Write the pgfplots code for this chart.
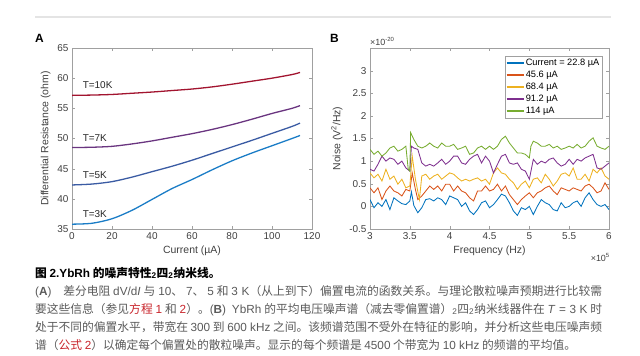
\documentclass[border=0pt]{standalone}
\usepackage{pgfplots}
\pgfplotsset{compat=1.18}
\usepackage{fontspec}
\setmainfont{Liberation Sans}
\newfontfamily\cjk[AutoFakeSlant=0.2]{Noto Sans CJK SC}
\newfontfamily\lat{Liberation Sans}
\newcommand\lt[1]{{\lat #1}}
\definecolor{capgray}{HTML}{5A5A5A}
\definecolor{capred}{HTML}{C8242B}
\definecolor{mblue}{HTML}{0072BD}
\definecolor{morange}{HTML}{D95319}
\definecolor{myellow}{HTML}{EDB120}
\definecolor{mpurple}{HTML}{7E2F8E}
\definecolor{mgreen}{HTML}{77AC30}
\definecolor{cTen}{HTML}{A2142F}
\definecolor{cSeven}{HTML}{6A3580}
\definecolor{cFive}{HTML}{3A5BA3}
\definecolor{cThree}{HTML}{1A7CC6}
\definecolor{axgray}{HTML}{A0A0A0}
\definecolor{txgray}{HTML}{404040}

\pgfplotsset{
  mystyle/.style={
    scale only axis,
    width=240bp, height=181bp,
    axis line style={axgray},
    tick style={axgray},
    tick align=inside,
    major tick length=3bp,
    tick label style={font=\fontsize{10}{11}\selectfont, text=txgray},
    label style={font=\fontsize{10.5}{12}\selectfont, text=txgray},
    /pgf/number format/assume math mode=true,
    scaled ticks=false,
  }
}

\begin{document}
\begin{tikzpicture}
\useasboundingbox (0,0) rectangle (640bp,-356bp);
\draw[color={rgb,255:red,228;green,228;blue,228}, line width=1.2bp] (35bp,-17bp) -- (611bp,-17bp);
\node[anchor=base west, inner sep=0, font=\fontsize{12}{14}\selectfont\bfseries] at (35bp,-42bp) {A};
\node[anchor=base west, inner sep=0, font=\fontsize{12}{14}\selectfont\bfseries] at (330bp,-42bp) {B};

% Panel A
\begin{axis}[mystyle,
  at={(72bp,-229bp)}, anchor=south west,
  xmin=0, xmax=120, ymin=35, ymax=65,
  xtick={0,20,...,120}, ytick={35,40,...,65},
  xlabel={Current (µA)}, ylabel={Differential Resistance (ohm)},
  every axis plot/.append style={line width=1.3pt, smooth},
]
\addplot[cTen] coordinates {(0,57.15)(10,57.2)(20,57.3)(30,57.5)(40,57.7)(50,57.95)(60,58.2)(70,58.55)(80,59.0)(90,59.5)(100,60.0)(110,60.6)(114,60.95)};
\addplot[cSeven] coordinates {(0,48.5)(10,48.55)(20,48.7)(30,49.1)(40,49.6)(50,50.2)(60,50.8)(70,51.5)(80,52.3)(90,53.2)(100,54.15)(110,55.0)(114,55.45)};
\addplot[cFive] coordinates {(0,42.3)(10,42.45)(20,42.85)(30,43.6)(40,44.5)(50,45.4)(60,46.4)(70,47.5)(80,48.6)(90,49.7)(100,50.85)(110,52.0)(114,52.55)};
\addplot[cThree] coordinates {(0,35.8)(10,35.95)(20,36.7)(30,38.1)(40,39.9)(50,41.7)(60,43.2)(70,44.8)(80,46.3)(90,47.6)(100,48.8)(110,50.0)(114,50.5)};
\node[anchor=base west, inner sep=0, font=\fontsize{10}{12}\selectfont, text=black!85] at (axis cs:5.3,58.25) {T=10K};
\node[anchor=base west, inner sep=0, font=\fontsize{10}{12}\selectfont, text=black!85] at (axis cs:5.3,49.55) {T=7K};
\node[anchor=base west, inner sep=0, font=\fontsize{10}{12}\selectfont, text=black!85] at (axis cs:5.3,43.3) {T=5K};
\node[anchor=base west, inner sep=0, font=\fontsize{10}{12}\selectfont, text=black!85] at (axis cs:5.3,36.85) {T=3K};
\end{axis}

% Panel B
\begin{axis}[mystyle,
  at={(370bp,-229bp)}, anchor=south west, width=239bp,
  xmin=3, xmax=6, ymin=-0.5, ymax=3.5,
  xtick={3,3.5,...,6}, ytick={-0.5,0,0.5,1,1.5,2,2.5,3},
  yticklabels={-0.5,0,0.5,1,1.5,2,2.5,3},
  xticklabels={3,3.5,4,4.5,5,5.5,6},
  xlabel={Frequency (Hz)}, ylabel={Noise (V\textsuperscript{2}/Hz)},
  legend cell align=left,
  legend style={at={(0.971,0.956)}, anchor=north east, draw=axgray,
    font=\fontsize{9.3}{10}\selectfont, inner xsep=1bp, inner ysep=1.5bp,
    row sep=1bp, nodes={inner xsep=1.5bp, inner ysep=1.5bp}},
  legend image post style={line width=1.4pt},
]
\addplot[color=mblue, line width=0.85pt] coordinates {(3.00,0.15)(3.05,-0.03)(3.10,0.08)(3.15,0.0)(3.20,0.15)(3.25,-0.07)(3.30,0.19)(3.35,0.12)(3.40,0.06)(3.45,0.04)(3.50,0.12)(3.52,0.32)(3.55,0.02)(3.60,-0.14)(3.65,-0.03)(3.70,0.15)(3.75,0.17)(3.80,0.12)(3.85,0.19)(3.90,0.15)(3.95,0.04)(4.00,0.23)(4.05,0.19)(4.10,0.15)(4.15,0.0)(4.20,0.08)(4.25,-0.10)(4.30,-0.18)(4.35,-0.07)(4.40,0.08)(4.45,0.12)(4.50,-0.03)(4.55,0.04)(4.60,0.15)(4.65,0.27)(4.70,0.23)(4.75,0.08)(4.80,-0.10)(4.85,-0.20)(4.90,-0.03)(4.95,-0.07)(5.00,0.0)(5.05,-0.18)(5.10,0.0)(5.15,0.15)(5.20,0.08)(5.25,0.04)(5.30,-0.07)(5.35,-0.10)(5.40,0.08)(5.45,-0.03)(5.50,0.0)(5.55,0.08)(5.60,0.12)(5.65,0.0)(5.70,0.19)(5.75,0.30)(5.80,0.15)(5.85,0.04)(5.90,0.0)(5.95,0.04)(6.00,-0.07)};
\addlegendentry{Current = 22.8 µA}
\addplot[color=morange, line width=0.85pt] coordinates {(3.00,0.41)(3.05,0.30)(3.10,0.41)(3.15,0.15)(3.20,0.34)(3.25,0.45)(3.30,0.34)(3.35,0.30)(3.40,0.23)(3.45,0.375)(3.50,0.34)(3.53,0.74)(3.57,0.375)(3.60,0.15)(3.65,0.23)(3.70,0.34)(3.75,0.45)(3.80,0.375)(3.85,0.45)(3.90,0.34)(3.95,0.49)(4.00,0.49)(4.05,0.34)(4.10,0.45)(4.15,0.34)(4.20,0.30)(4.25,0.19)(4.30,0.12)(4.35,0.34)(4.40,0.34)(4.45,0.45)(4.50,0.34)(4.55,0.375)(4.60,0.49)(4.65,0.34)(4.70,0.45)(4.75,0.26)(4.80,0.15)(4.85,0.04)(4.90,0.15)(4.95,0.23)(5.00,0.30)(5.05,0.19)(5.10,0.30)(5.15,0.34)(5.20,0.41)(5.25,0.45)(5.30,0.34)(5.35,0.26)(5.40,0.41)(5.45,0.375)(5.50,0.34)(5.55,0.41)(5.60,0.375)(5.65,0.34)(5.70,0.45)(5.75,0.49)(5.80,0.41)(5.85,0.30)(5.90,0.34)(5.95,0.52)(6.00,0.375)};
\addlegendentry{45.6 µA}
\addplot[color=myellow, line width=0.85pt] coordinates {(3.00,0.74)(3.05,0.63)(3.10,0.71)(3.15,0.56)(3.20,0.82)(3.25,0.60)(3.30,0.67)(3.35,0.49)(3.40,0.60)(3.45,0.41)(3.50,0.45)(3.53,1.11)(3.57,0.60)(3.62,0.15)(3.65,0.67)(3.70,0.71)(3.75,0.60)(3.80,0.67)(3.85,0.71)(3.90,0.60)(3.95,0.67)(4.00,0.74)(4.05,0.71)(4.10,0.63)(4.15,0.56)(4.20,0.60)(4.25,0.56)(4.30,0.60)(4.35,0.63)(4.40,0.56)(4.45,0.60)(4.50,0.49)(4.55,0.74)(4.60,0.85)(4.65,0.74)(4.70,0.71)(4.75,0.60)(4.80,0.52)(4.85,0.375)(4.90,0.49)(4.95,0.56)(5.00,0.41)(5.05,0.60)(5.10,0.63)(5.15,0.52)(5.20,0.71)(5.25,0.60)(5.30,0.45)(5.35,0.56)(5.40,0.71)(5.45,0.74)(5.50,0.67)(5.55,0.85)(5.60,0.60)(5.65,0.60)(5.70,0.71)(5.75,0.56)(5.80,0.82)(5.85,0.74)(5.90,0.85)(5.95,0.67)(6.00,0.60)};
\addlegendentry{68.4 µA}
\addplot[color=mpurple, line width=0.85pt] coordinates {(3.00,0.82)(3.05,0.78)(3.10,0.93)(3.15,1.11)(3.20,1.00)(3.25,1.07)(3.30,1.04)(3.35,0.93)(3.40,1.00)(3.45,0.85)(3.50,0.78)(3.52,1.33)(3.55,1.29)(3.60,1.26)(3.65,0.96)(3.70,0.89)(3.75,0.93)(3.80,0.89)(3.85,0.96)(3.90,1.04)(3.95,0.93)(4.00,1.00)(4.05,1.11)(4.10,1.11)(4.15,0.96)(4.20,0.93)(4.25,1.04)(4.30,1.11)(4.35,1.15)(4.40,0.96)(4.45,1.11)(4.50,1.00)(4.55,0.74)(4.60,0.93)(4.65,1.11)(4.70,1.15)(4.75,0.96)(4.80,0.93)(4.85,0.96)(4.90,0.82)(4.95,0.78)(5.00,0.60)(5.05,1.04)(5.10,0.93)(5.15,1.00)(5.20,0.96)(5.25,1.04)(5.30,1.07)(5.35,0.96)(5.40,0.89)(5.45,0.93)(5.50,1.04)(5.55,0.93)(5.60,1.04)(5.65,1.00)(5.70,1.07)(5.75,1.11)(5.80,1.15)(5.85,0.85)(5.90,0.82)(5.95,0.89)(6.00,0.96)};
\addlegendentry{91.2 µA}
\addplot[color=mgreen, line width=0.85pt] coordinates {(3.00,1.26)(3.05,1.15)(3.10,1.22)(3.15,1.11)(3.20,1.18)(3.25,1.29)(3.30,1.33)(3.35,1.22)(3.40,1.26)(3.45,1.33)(3.48,0.82)(3.50,0.78)(3.51,1.63)(3.55,1.48)(3.60,1.33)(3.65,1.29)(3.70,1.33)(3.75,1.40)(3.80,1.33)(3.85,1.29)(3.90,1.40)(3.95,1.33)(4.00,1.33)(4.05,1.37)(4.10,1.26)(4.15,1.29)(4.20,1.33)(4.25,1.15)(4.30,1.18)(4.35,1.29)(4.40,1.33)(4.45,1.26)(4.50,1.33)(4.55,1.26)(4.60,1.33)(4.65,1.48)(4.70,1.55)(4.75,1.40)(4.80,1.29)(4.85,1.18)(4.90,1.18)(4.95,1.15)(5.00,1.07)(5.02,1.33)(5.05,1.44)(5.10,1.40)(5.15,1.33)(5.20,1.33)(5.25,1.37)(5.30,1.29)(5.35,1.33)(5.40,1.26)(5.45,1.29)(5.50,1.33)(5.55,1.29)(5.60,1.37)(5.65,1.29)(5.70,1.33)(5.75,1.44)(5.80,1.515)(5.85,1.33)(5.90,1.29)(5.95,1.26)(6.00,1.33)};
\addlegendentry{114 µA}
\end{axis}
\node[anchor=base west, inner sep=0, font=\fontsize{9}{10}\selectfont, text=txgray] at (370bp,-45bp) {×10\textsuperscript{-20}};
\node[anchor=base east, inner sep=0, font=\fontsize{9}{10}\selectfont, text=txgray] at (610bp,-261bp) {×10\textsuperscript{5}};

% Caption
\node[anchor=base west, inner sep=0, font=\cjk\fontsize{11.8}{13}\selectfont\bfseries] at (35bp,-277bp) {图 \lt{2.YbRh} 的噪声特性\lt{\textsubscript{2}}四\lt{\textsubscript{2}}纳米线。};
\begin{scope}[every node/.style={anchor=base west, inner sep=0, font=\cjk\fontsize{11.8}{13}\selectfont, text=capgray}]
\node at (35bp,-295bp) {\makebox[567bp][s]{\lt{(\textbf{A})}\quad 差分电阻 \lt{dV/d\textit{I}} 与 \lt{10}、 \lt{7}、 \lt{5} 和 \lt{3 K}（从上到下）偏置电流的函数关系。与理论散粒噪声预期进行比较需}};
\node at (35bp,-313bp) {\makebox[567bp][s]{要这些信息（参见\textcolor{capred}{方程 \lt{1}} 和 \textcolor{capred}{\lt{2}}）。\lt{(\textbf{B})}\enspace \lt{YbRh} 的平均电压噪声谱（减去零偏置谱）\lt{\textsubscript{2}}四\lt{\textsubscript{2}}纳米线器件在 \lt{\textit{T} = 3 K} 时}};
\node at (35bp,-331bp) {\makebox[567bp][s]{处于不同的偏置水平，带宽在 \lt{300} 到 \lt{600 kHz} 之间。该频谱范围不受外在特征的影响，并分析这些电压噪声频}};
\node at (35bp,-349bp) {谱（\textcolor{capred}{公式 \lt{2}}）以确定每个偏置处的散粒噪声。显示的每个频谱是 \lt{4500} 个带宽为 \lt{10 kHz} 的频谱的平均值。};
\end{scope}
\end{tikzpicture}
\end{document}
